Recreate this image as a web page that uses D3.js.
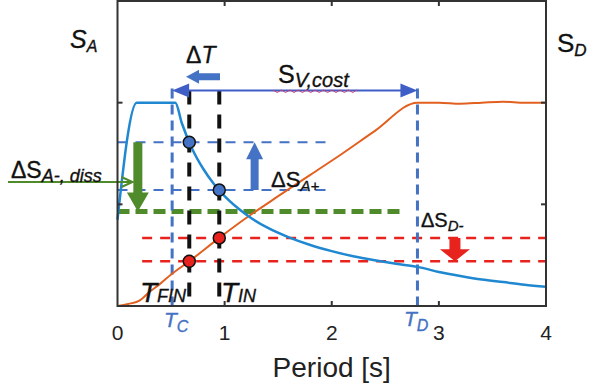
<!DOCTYPE html>
<html>
<head>
<meta charset="utf-8">
<script src="https://cdn.jsdelivr.net/npm/d3@7"></script>
<style>
  html, body { margin: 0; padding: 0; background: #fff; }
  svg { display: block; }
  text { font-family: "Liberation Sans", Arial, sans-serif; }
</style>
</head>
<body>
<svg id="chart" width="590" height="389"></svg>
<script>
// ---------- data ----------
const periodsSA = [0, 0.18, 0.54, 0.6, 0.7, 0.8, 0.9, 1.0, 1.2, 1.4, 1.6, 1.8, 2.0, 2.2, 2.4, 2.6, 2.8, 3.0, 3.2, 3.4, 3.6, 3.8, 4.0];
const spectralAcc = [0.85, 2.0, 2.0, 1.80, 1.54, 1.35, 1.20, 1.08, 0.90, 0.77, 0.675, 0.60, 0.54, 0.49, 0.45, 0.415, 0.385, 0.335, 0.295, 0.26, 0.235, 0.21, 0.19];

const periodsSD = [0, 0.1, 0.2, 0.3, 0.4, 0.5, 0.67, 0.95, 1.22, 1.5, 1.8, 2.1, 2.4, 2.8, 3.0, 3.2, 3.4, 3.6, 3.8, 4.0];
const spectralDisp = [0, 0.02, 0.05, 0.14, 0.22, 0.31, 0.44, 0.67, 0.88, 1.08, 1.29, 1.5, 1.72, 2.0, 2.0, 1.99, 2.0, 2.01, 2.0, 2.0];

const xTicks = [0, 1, 2, 3, 4];
const yTicks = [1, 2];
const xLabel = "Period [s]";

const T_C = 0.51, T_D = 2.80;
const T_FIN = 0.67, T_IN = 0.95;
const saAtT = [1.61, 1.14];     // S_A at T_FIN, T_IN
const sdAtT = [0.44, 0.67];     // S_D at T_FIN, T_IN
const dissLevel = 0.93;
const costLevel = 2.12;
const deltaTLevel = 2.255;

// ---------- scales ----------
const svg = d3.select("#chart");
const x = d3.scaleLinear().domain([0, 4]).range([117.5, 546]);
const y = d3.scaleLinear().domain([0, 3]).range([306, 1]);

const BLUE_CURVE = "#1f88d0", ORANGE = "#e2601f", DBLUE = "#4472c4",
      GREEN = "#4f8a2b", RED = "#e8231e", FRAME = "#333";

// ---------- dashed guide lines ----------
const g = svg.append("g");
saAtT.forEach(v => {
  g.append("line").attr("x1", x(0)).attr("x2", x(2.0)).attr("y1", y(v)).attr("y2", y(v))
    .attr("stroke", DBLUE).attr("stroke-width", 2).attr("stroke-dasharray", "10,8");
});
sdAtT.forEach(v => {
  g.append("line").attr("x1", x(0.23)).attr("x2", x(4)).attr("y1", y(v)).attr("y2", y(v))
    .attr("stroke", RED).attr("stroke-width", 2.5).attr("stroke-dasharray", "10,8");
});
g.append("line").attr("x1", x(0)).attr("x2", x(2.64)).attr("y1", y(dissLevel)).attr("y2", y(dissLevel))
  .attr("stroke", GREEN).attr("stroke-width", 5).attr("stroke-dasharray", "12,6");
[T_C, T_D].forEach(t => {
  g.append("line").attr("x1", x(t)).attr("x2", x(t)).attr("y1", y(2.14)).attr("y2", y(-0.03))
    .attr("stroke", DBLUE).attr("stroke-width", 3).attr("stroke-dasharray", "10,6");
});
[T_FIN, T_IN].forEach(t => {
  g.append("line").attr("x1", x(t)).attr("x2", x(t)).attr("y1", y(2.12)).attr("y2", y(0))
    .attr("stroke", "#111").attr("stroke-width", 4).attr("stroke-dasharray", "14,10");
});

// ---------- curves ----------
const line = d3.line().x(d => x(d[0])).y(d => y(d[1])).curve(d3.curveMonotoneX);
svg.append("path").datum(periodsSD.map((t, i) => [t, spectralDisp[i]]))
  .attr("d", line).attr("fill", "none").attr("stroke", ORANGE).attr("stroke-width", 2);
svg.append("path").datum(periodsSA.map((t, i) => [t, spectralAcc[i]]))
  .attr("d", line).attr("fill", "none").attr("stroke", BLUE_CURVE).attr("stroke-width", 2.5);

// ---------- arrows ----------
function vArrow(cx, y0, y1, shaft, head, headLen, color) {
  const dir = y1 > y0 ? 1 : -1;
  const yb = y1 - dir * headLen;
  const p = [[cx - shaft / 2, y0], [cx + shaft / 2, y0], [cx + shaft / 2, yb], [cx + head / 2, yb],
             [cx, y1], [cx - head / 2, yb], [cx - shaft / 2, yb]];
  svg.append("path").attr("d", "M" + p.map(q => q.join(",")).join("L") + "Z").attr("fill", color);
}
function hArrow(cy, x0, x1, shaft, head, headLen, color) {
  const dir = x1 > x0 ? 1 : -1;
  const xb = x1 - dir * headLen;
  const p = [[x0, cy - shaft / 2], [x0, cy + shaft / 2], [xb, cy + shaft / 2], [xb, cy + head / 2],
             [x1, cy], [xb, cy - head / 2], [xb, cy - shaft / 2]];
  svg.append("path").attr("d", "M" + p.map(q => q.join(",")).join("L") + "Z").attr("fill", color);
}
vArrow(x(0.19), y(saAtT[0]), y(dissLevel), 9, 22, 19, GREEN);
vArrow(x(1.28), y(saAtT[1]), y(saAtT[0]), 8, 17, 17, DBLUE);
vArrow(x(3.15), y(sdAtT[1]), y(sdAtT[0]), 11, 30, 12, RED);
hArrow(y(deltaTLevel), x(0.957), x(0.64), 7, 14, 13, DBLUE);
svg.append("line").attr("x1", x(T_C) + 10).attr("x2", x(T_D) - 10)
  .attr("y1", y(costLevel)).attr("y2", y(costLevel)).attr("stroke", "#3f5fc6").attr("stroke-width", 2);
[[T_C, 1], [T_D, -1]].forEach(([t, d]) => {
  const tx = x(t), ty = y(costLevel);
  svg.append("path").attr("d", `M${tx},${ty}L${tx + d * 17},${ty - 7}L${tx + d * 17},${ty + 7}Z`).attr("fill", "#3f5fc6");
});
svg.append("line").attr("x1", 8).attr("x2", x(0.14)).attr("y1", 182).attr("y2", 182)
  .attr("stroke", GREEN).attr("stroke-width", 2);
svg.append("path").attr("d", `M${x(0.14) - 11},177L${x(0.14)},182L${x(0.14) - 11},187`)
  .attr("fill", "none").attr("stroke", GREEN).attr("stroke-width", 2);

// ---------- points ----------
[T_FIN, T_IN].forEach((t, i) => {
  svg.append("circle").attr("cx", x(t)).attr("cy", y(saAtT[i])).attr("r", 6)
    .attr("fill", DBLUE).attr("stroke", "#111").attr("stroke-width", 1.5);
  svg.append("circle").attr("cx", x(t)).attr("cy", y(sdAtT[i])).attr("r", 6)
    .attr("fill", RED).attr("stroke", "#111").attr("stroke-width", 1.5);
});

// ---------- labels ----------
function label(x0, yb, parts, color) {
  const c = color || "#111";
  const t = svg.append("text").attr("x", x0).attr("y", yb).attr("fill", c)
    .attr("stroke", c).attr("stroke-width", 0.35);
  parts.forEach(p => {
    t.append("tspan").text(p.t).attr("font-size", p.s).attr("dy", p.dy || 0)
      .attr("font-style", p.i ? "italic" : "normal");
  });
  return t;
}
label(70, 48, [{t: "S", s: 25, i: true}, {t: "A", s: 16, i: true, dy: 4}]);
label(557, 52, [{t: "S", s: 26}, {t: "D", s: 17, i: true, dy: 4}]);
label(186, 63, [{t: "Δ", s: 23}, {t: "T", s: 23, i: true}]);
label(278, 83, [{t: "S", s: 25}, {t: "V,cost", s: 20, i: true, dy: 4}]);
label(11, 178, [{t: "ΔS", s: 23}, {t: "A-, diss", s: 18, i: true, dy: 4}]);
label(271, 187, [{t: "ΔS", s: 22}, {t: "A+", s: 15, i: true, dy: 4}]);
label(421, 227, [{t: "ΔS", s: 20}, {t: "D-", s: 15, i: true, dy: 4}]);
label(164, 327, [{t: "T", s: 21, i: true}, {t: "C", s: 16, i: true, dy: 5}], DBLUE);
label(404, 326, [{t: "T", s: 21, i: true}, {t: "D", s: 16, i: true, dy: 5}], DBLUE);
label(140, 302, [{t: "T", s: 28, i: true}, {t: "FIN", s: 18, i: true, dy: 0}]);
label(221, 302, [{t: "T", s: 28, i: true}, {t: "IN", s: 18, i: true, dy: 0}]);

const wave = d3.range(0, 21).map(i => [273 + i * 4.2, 91 + (i % 2 ? 1.5 : -1)]);
svg.append("path").attr("d", d3.line()(wave)).attr("fill", "none").attr("stroke", "#c8407a").attr("stroke-width", 1);

// ---------- frame & axes ----------
svg.append("rect").attr("x", x(0)).attr("y", y(3)).attr("width", x(4) - x(0)).attr("height", y(0) - y(3))
  .attr("fill", "none").attr("stroke", FRAME).attr("stroke-width", 2);
xTicks.slice(1, 4).forEach(t => {
  svg.append("line").attr("x1", x(t)).attr("x2", x(t)).attr("y1", y(0)).attr("y2", y(0) - 5).attr("stroke", FRAME).attr("stroke-width", 2);
  svg.append("line").attr("x1", x(t)).attr("x2", x(t)).attr("y1", y(3)).attr("y2", y(3) + 5).attr("stroke", FRAME).attr("stroke-width", 2);
});
yTicks.forEach(v => {
  svg.append("line").attr("x1", x(0)).attr("x2", x(0) + 5).attr("y1", y(v)).attr("y2", y(v)).attr("stroke", FRAME).attr("stroke-width", 2);
  svg.append("line").attr("x1", x(4)).attr("x2", x(4) - 5).attr("y1", y(v)).attr("y2", y(v)).attr("stroke", FRAME).attr("stroke-width", 2);
});
xTicks.forEach(t => {
  svg.append("text").attr("x", x(t)).attr("y", 340).attr("text-anchor", "middle")
    .attr("font-size", 21).attr("fill", "#222").text(t);
});
svg.append("text").attr("x", x(2)).attr("y", 377).attr("text-anchor", "middle")
  .attr("font-size", 28).attr("fill", "#222").text(xLabel);
</script>
</body>
</html>
